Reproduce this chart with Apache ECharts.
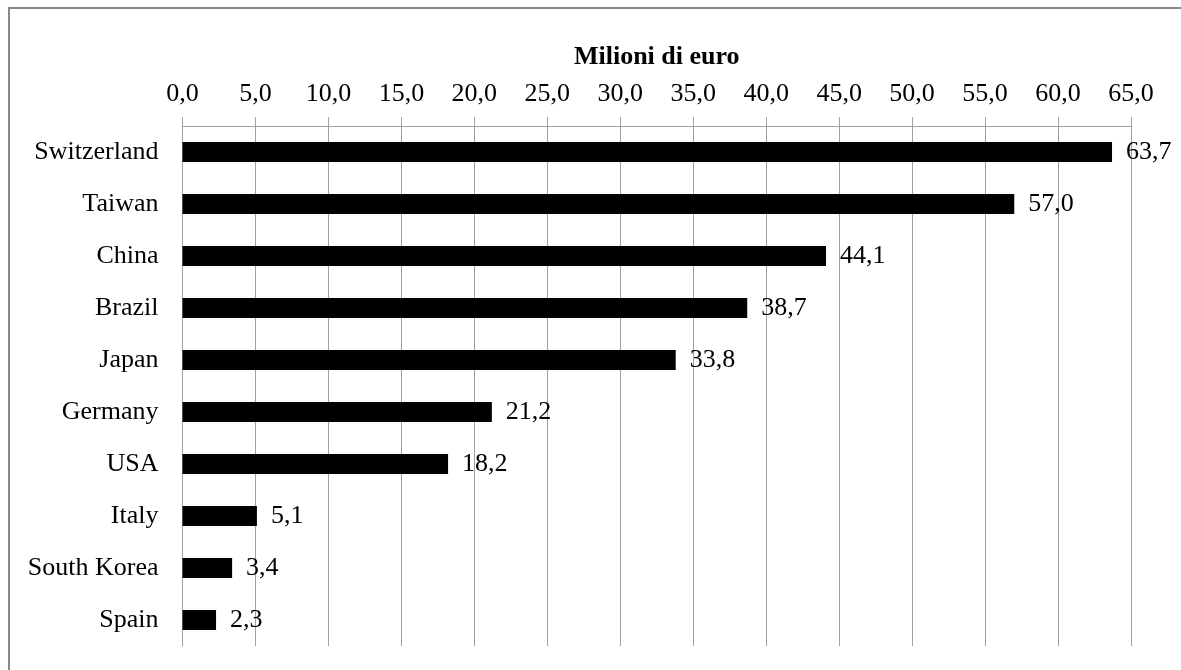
<!DOCTYPE html>
<html>
<head>
<meta charset="utf-8">
<script src="https://cdn.jsdelivr.net/npm/echarts@6/dist/echarts.min.js"></script>
<style>
  html, body { margin: 0; padding: 0; background: #ffffff; }
  #chart { width: 1181px; height: 670px; }
</style>
</head>
<body>
<div id="chart"></div>
<script>
// Countries, top to bottom
const countries = ['Switzerland', 'Taiwan', 'China', 'Brazil', 'Japan', 'Germany', 'USA', 'Italy', 'South Korea', 'Spain'];
// Value in millions of euro
const values = [63.7, 57.0, 44.1, 38.7, 33.8, 21.2, 18.2, 5.1, 3.4, 2.3];
// Value axis range
const axisMin = 0;
const axisMax = 65;
const axisStep = 5;
const axisTitle = 'Milioni di euro';

const fmt = v => Number(v).toFixed(1).replace('.', ',');
const serif = '"Liberation Serif", "DejaVu Serif", serif';
const gridColor = '#a0a0a0';

const chart = echarts.init(document.getElementById('chart'), null, { renderer: 'canvas' });
chart.setOption({
  animation: false,
  backgroundColor: '#ffffff',
  graphic: [{
    type: 'rect',
    silent: true,
    shape: { x: 9, y: 8, width: 1200, height: 700 },
    style: { fill: 'none', stroke: '#888888', lineWidth: 2 }
  }],
  grid: { left: 182.5, right: 50, top: 126, bottom: 24, containLabel: false },
  xAxis: {
    type: 'value',
    position: 'top',
    min: axisMin,
    max: axisMax,
    interval: axisStep,
    name: axisTitle,
    nameLocation: 'middle',
    nameGap: 56,
    nameTextStyle: { fontFamily: serif, fontSize: 26, fontWeight: 'bold', color: '#000' },
    axisLine: { show: true, lineStyle: { color: gridColor, width: 1 } },
    axisTick: { show: true, length: 9, lineStyle: { color: gridColor, width: 1 } },
    axisLabel: { formatter: fmt, fontFamily: serif, fontSize: 26, color: '#000', margin: 19 },
    splitLine: { show: true, lineStyle: { color: gridColor, width: 1 } }
  },
  yAxis: {
    type: 'category',
    inverse: true,
    data: countries,
    axisLine: { show: true, lineStyle: { color: gridColor, width: 1 } },
    axisTick: { show: false },
    axisLabel: { fontFamily: serif, fontSize: 26, color: '#000', margin: 24 }
  },
  series: [{
    type: 'bar',
    data: values,
    barWidth: 20,
    itemStyle: { color: '#000000' },
    label: {
      show: true,
      position: 'right',
      distance: 14,
      formatter: p => fmt(p.value),
      fontFamily: serif,
      fontSize: 26,
      color: '#000'
    }
  }]
});
</script>
</body>
</html>
